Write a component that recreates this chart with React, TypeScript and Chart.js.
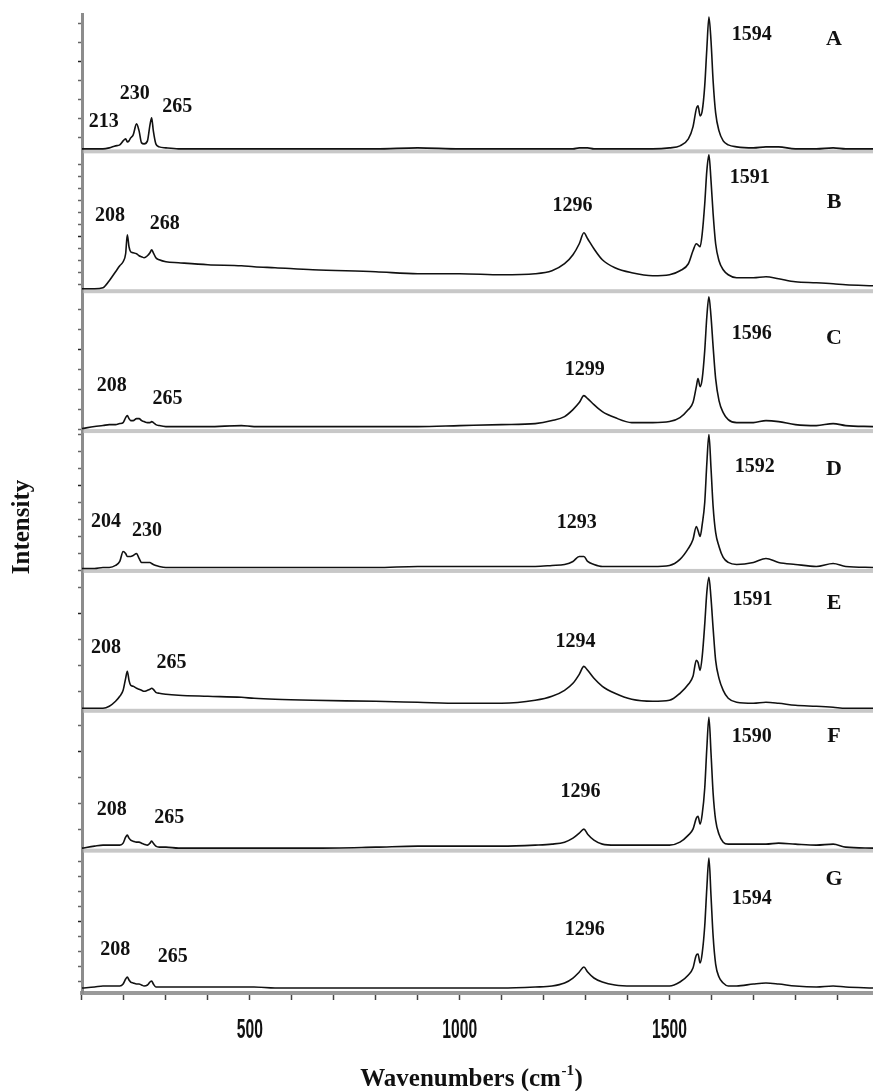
import React, { useEffect, useRef } from 'react';
import { Chart, registerables } from 'chart.js';

Chart.register(...registerables);

// Wavenumbers (cm-1) shared by all spectra
const WAVENUMBERS = [
  100, 130, 150, 165, 180, 190, 198, 204, 208, 212,
  216, 222, 230, 236, 242, 248, 256, 262, 266, 270,
  276, 284, 300, 330, 400, 480, 510, 560, 650, 800,
  900, 1000, 1100, 1180, 1220, 1250, 1270, 1285, 1296, 1305,
  1320, 1340, 1370, 1410, 1460, 1500, 1525, 1545, 1556, 1564,
  1568, 1573, 1578, 1584, 1589, 1594, 1599, 1604, 1610, 1618,
  1628, 1640, 1660, 1700, 1730, 1760, 1800, 1850, 1890, 1920,
  1985,
];

const SPEC_A = [
  0, 0, 0, 1, 3, 4, 8, 10, 7, 8,
  11, 14, 25, 18, 6, 5, 8, 24, 31, 18,
  5, 2, 1, 0, 0, 0, 0, 0, 0, 0,
  1, 0, 0, 0, 0, 0, 0, 1, 1, 1,
  0, 0, 0, 0, 0, 1, 3, 10, 22, 40,
  43, 33, 38, 63, 100, 132, 108, 68, 36, 18,
  8, 4, 2, 1, 2, 2, 0, 0, 1, 0,
  0,
];
const SPEC_B = [
  0, 0, 1, 8, 17, 23, 27, 35, 54, 42,
  37, 36, 35, 33, 32, 31, 33, 36, 39, 36,
  31, 29, 27, 26, 24, 23, 22, 21, 19, 17,
  15, 15, 14, 15, 18, 25, 34, 45, 56, 50,
  40, 29, 21, 16, 13, 14, 18, 25, 38, 45,
  44, 42, 55, 85, 118, 134, 108, 75, 45, 28,
  19, 14, 11, 11, 12, 10, 7, 6, 5, 4,
  3,
];
const SPEC_C = [
  0, 2, 3, 4, 4, 5, 6, 11, 13, 10,
  8, 8, 10, 10, 8, 7, 6, 6, 7, 6,
  4, 3, 2, 2, 2, 3, 2, 2, 2, 2,
  2, 3, 4, 5, 8, 12, 19, 26, 33, 30,
  24, 17, 11, 6, 6, 7, 11, 19, 26, 42,
  50, 42, 50, 78, 112, 132, 112, 82, 50, 28,
  16, 9, 6, 6, 8, 7, 4, 3, 5, 3,
  2,
];
const SPEC_D = [
  0, 0, 1, 1, 3, 7, 17, 15, 12, 12,
  12, 13, 15, 10, 6, 6, 6, 6, 5, 4,
  3, 2, 1, 1, 1, 1, 1, 1, 1, 1,
  2, 2, 2, 2, 3, 4, 7, 12, 12, 7,
  4, 2, 2, 2, 2, 3, 9, 20, 29, 42,
  38, 32, 44, 66, 105, 134, 100, 62, 36, 22,
  11, 6, 4, 6, 10, 6, 4, 2, 5, 2,
  1,
];
const SPEC_E = [
  0, 0, 0, 2, 7, 12, 18, 30, 37, 28,
  23, 22, 20, 19, 18, 17, 18, 19, 20, 19,
  16, 15, 14, 13, 12, 11, 10, 9, 8, 7,
  6, 5, 5, 8, 12, 18, 25, 34, 42, 38,
  30, 22, 15, 9, 7, 8, 15, 24, 32, 48,
  46, 38, 52, 84, 116, 131, 110, 80, 48, 30,
  18, 10, 6, 5, 6, 5, 3, 2, 1, 0,
  0,
];
const SPEC_F = [
  0, 2, 3, 3, 3, 3, 5, 11, 13, 10,
  8, 7, 6, 6, 5, 4, 3, 5, 7, 5,
  2, 1, 1, 0, 0, 0, 0, 0, 0, 1,
  2, 2, 2, 3, 4, 6, 10, 15, 19, 14,
  8, 4, 3, 3, 3, 3, 6, 13, 19, 30,
  32, 24, 34, 60, 100, 131, 95, 55, 28, 14,
  6, 4, 4, 4, 4, 5, 4, 3, 4, 1,
  0,
];
const SPEC_G = [
  0, 1, 2, 2, 2, 2, 4, 9, 11, 8,
  6, 5, 4, 4, 3, 2, 3, 6, 7, 4,
  1, 1, 1, 1, 1, 1, 1, 0, 0, 0,
  0, 0, 0, 1, 2, 5, 10, 16, 21, 16,
  10, 6, 3, 2, 2, 2, 6, 13, 20, 33,
  34, 25, 35, 62, 100, 130, 92, 52, 24, 11,
  5, 2, 2, 4, 5, 4, 2, 1, 2, 1,
  0,
];

const PANELS = ['A', 'B', 'C', 'D', 'E', 'F', 'G'];
const SERIES = [SPEC_A, SPEC_B, SPEC_C, SPEC_D, SPEC_E, SPEC_F, SPEC_G];

// Peak labels: [text, wavenumber, intensity]
const PEAKS_A = [['213', 152, 22], ['230', 226, 50], ['265', 327, 37], ['1594', 1696, 109]];
const PEAKS_B = [['208', 167, 68], ['268', 297, 60], ['1296', 1269, 78], ['1591', 1691, 106]];
const PEAKS_C = [['208', 171, 38], ['265', 304, 25], ['1299', 1298, 54], ['1596', 1696, 90]];
const PEAKS_D = [['204', 157, 41], ['230', 255, 32], ['1293', 1279, 40], ['1592', 1703, 97]];
const PEAKS_E = [['208', 157, 55], ['265', 313, 40], ['1294', 1276, 61], ['1591', 1698, 103]];
const PEAKS_F = [['208', 171, 33], ['265', 308, 25], ['1296', 1288, 51], ['1590', 1696, 106]];
const PEAKS_G = [['208', 179, 33], ['265', 316, 26], ['1296', 1298, 53], ['1594', 1696, 84]];
const PEAK_LABELS = [PEAKS_A, PEAKS_B, PEAKS_C, PEAKS_D, PEAKS_E, PEAKS_F, PEAKS_G];

const LETTER_WN = 1892;
const LETTER_H = [104, 81, 85, 94, 99, 106, 103];

const Y_MIN = -5;
const Y_MAX = 135;
const Y_TICK_STEP = [19, 12, 20, 17, 26, 26, 15];
const Y_TICK_MAJOR = [87, 52, 79, 83, 95, 97, 67];

const X_MIN = 100;
const X_MAX = 1985;
const X_TICKS = [100, 200, 300, 400, 500, 600, 700, 800, 900, 1000, 1100, 1200, 1300, 1400, 1500, 1600, 1700, 1800, 1900];
const X_TICK_LABELS = [500, 1000, 1500];

const SERIF = '"Liberation Serif", "Times New Roman", serif';

function panelTicks(i: number) {
  const out: number[] = [];
  for (let v = Y_TICK_MAJOR[i]; v > Y_MIN; v -= Y_TICK_STEP[i]) out.push(v);
  for (let v = Y_TICK_MAJOR[i] + Y_TICK_STEP[i]; v < Y_MAX; v += Y_TICK_STEP[i]) out.push(v);
  return out.sort((a, b) => a - b);
}

const decorPlugin = {
  id: 'decor',
  beforeDatasetsDraw(chart: any) {
    const ctx = chart.ctx;
    const { left, right } = chart.chartArea;
    ctx.save();
    ctx.fillStyle = '#c8c8c8';
    PANELS.forEach((p, i) => {
      if (i === PANELS.length - 1) return;
      const s = chart.scales['y' + p];
      ctx.fillRect(left + 1.5, s.bottom - 4.5, right - left, 4);
    });
    ctx.restore();
  },
  afterDraw(chart: any) {
    const ctx = chart.ctx;
    const xs = chart.scales.x;
    ctx.save();
    ctx.fillStyle = '#111';
    ctx.textBaseline = 'alphabetic';
    ctx.textAlign = 'center';
    PANELS.forEach((p, i) => {
      const ys = chart.scales['y' + p];
      ctx.font = 'bold 20px ' + SERIF;
      PEAK_LABELS[i].forEach((lab: any) => {
        ctx.fillText(lab[0], xs.getPixelForValue(lab[1]), ys.getPixelForValue(lab[2]));
      });
      ctx.font = 'bold 22px ' + SERIF;
      ctx.fillText(p, xs.getPixelForValue(LETTER_WN), ys.getPixelForValue(LETTER_H[i]));
    });

    // condensed x tick labels, placed at the x scale's tick positions
    ctx.font = 'bold 28px "Liberation Sans", Arial, sans-serif';
    X_TICK_LABELS.forEach((v) => {
      const px = xs.getPixelForValue(v);
      ctx.save();
      ctx.translate(px, 1038);
      ctx.scale(0.56, 1);
      ctx.fillText(String(v), 0, 0);
      ctx.restore();
    });

    // y title
    ctx.save();
    ctx.translate(23, 527);
    ctx.rotate(-Math.PI / 2);
    ctx.font = 'bold 25px ' + SERIF;
    ctx.textBaseline = 'middle';
    ctx.fillText('Intensity', 0, 0);
    ctx.restore();

    // x title with superscript
    const main = 'Wavenumbers (cm';
    const sup = '-1';
    const close = ')';
    ctx.textAlign = 'left';
    ctx.font = 'bold 25px ' + SERIF;
    const w1 = ctx.measureText(main).width;
    const w3 = ctx.measureText(close).width;
    ctx.font = 'bold 15px ' + SERIF;
    const w2 = ctx.measureText(sup).width;
    const x0 = 471 - (w1 + w2 + w3) / 2;
    const by = 1086;
    ctx.font = 'bold 25px ' + SERIF;
    ctx.fillText(main, x0, by);
    ctx.font = 'bold 15px ' + SERIF;
    ctx.fillText(sup, x0 + w1 + 0.5, by - 11);
    ctx.font = 'bold 25px ' + SERIF;
    ctx.fillText(close, x0 + w1 + w2 + 1, by);
    ctx.restore();
  },
};

export default function App() {
  const ref = useRef<HTMLCanvasElement | null>(null);

  useEffect(() => {
    if (!ref.current) return;
    const scales: any = {
      x: {
        type: 'linear',
        position: 'bottom',
        min: X_MIN,
        max: X_MAX,
        afterBuildTicks: (s: any) => {
          s.ticks = X_TICKS.map((v) => ({ value: v }));
        },
        afterFit: (s: any) => {
          s.height = 98;
        },
        ticks: {
          autoSkip: false,
          maxRotation: 0,
          callback: () => '',
        },
        grid: { drawOnChartArea: false, drawTicks: true, tickLength: 7, tickColor: '#444', tickWidth: 1.5 },
        border: { display: true, color: '#9a9a9a', width: 4 },
      },
    };
    PANELS.forEach((p, i) => {
      scales['y' + p] = {
        type: 'linear',
        position: 'left',
        stack: 'spectra',
        stackWeight: 1,
        weight: PANELS.length - i,
        min: Y_MIN,
        max: Y_MAX,
        afterBuildTicks: (s: any) => {
          s.ticks = panelTicks(i).map((v) => ({ value: v }));
        },
        afterFit: (s: any) => {
          s.width = 82;
        },
        ticks: { display: false },
        grid: {
          drawOnChartArea: false,
          drawTicks: true,
          tickLength: 4,
          tickWidth: 1.5,
          tickColor: (c: any) => (c.tick && c.tick.value === Y_TICK_MAJOR[i] ? '#222' : '#666'),
        },
        border: { display: true, color: '#8c8c8c', width: 3 },
      };
    });

    const chart = new Chart(ref.current, {
      type: 'line',
      data: {
        datasets: SERIES.map((vals, i) => ({
          label: PANELS[i],
          data: WAVENUMBERS.map((x, k) => ({ x, y: vals[k] })),
          xAxisID: 'x',
          yAxisID: 'y' + PANELS[i],
          borderColor: '#111',
          borderWidth: 1.6,
          pointRadius: 0,
          fill: false,
          cubicInterpolationMode: 'monotone',
        })),
      },
      options: {
        animation: false,
        responsive: false,
        devicePixelRatio: 1,
        events: [],
        layout: { padding: { top: 14, left: 0, right: 0, bottom: 0 } },
        plugins: { legend: { display: false }, tooltip: { enabled: false }, title: { display: false } },
        scales,
      },
      plugins: [decorPlugin],
    } as any);
    return () => chart.destroy();
  }, []);

  return (
    <div style={{ position: 'absolute', left: 0, top: 0, width: 873, height: 1091, background: '#fff' }}>
      <canvas ref={ref} width={873} height={1091} style={{ width: 873, height: 1091, display: 'block' }} />
    </div>
  );
}
